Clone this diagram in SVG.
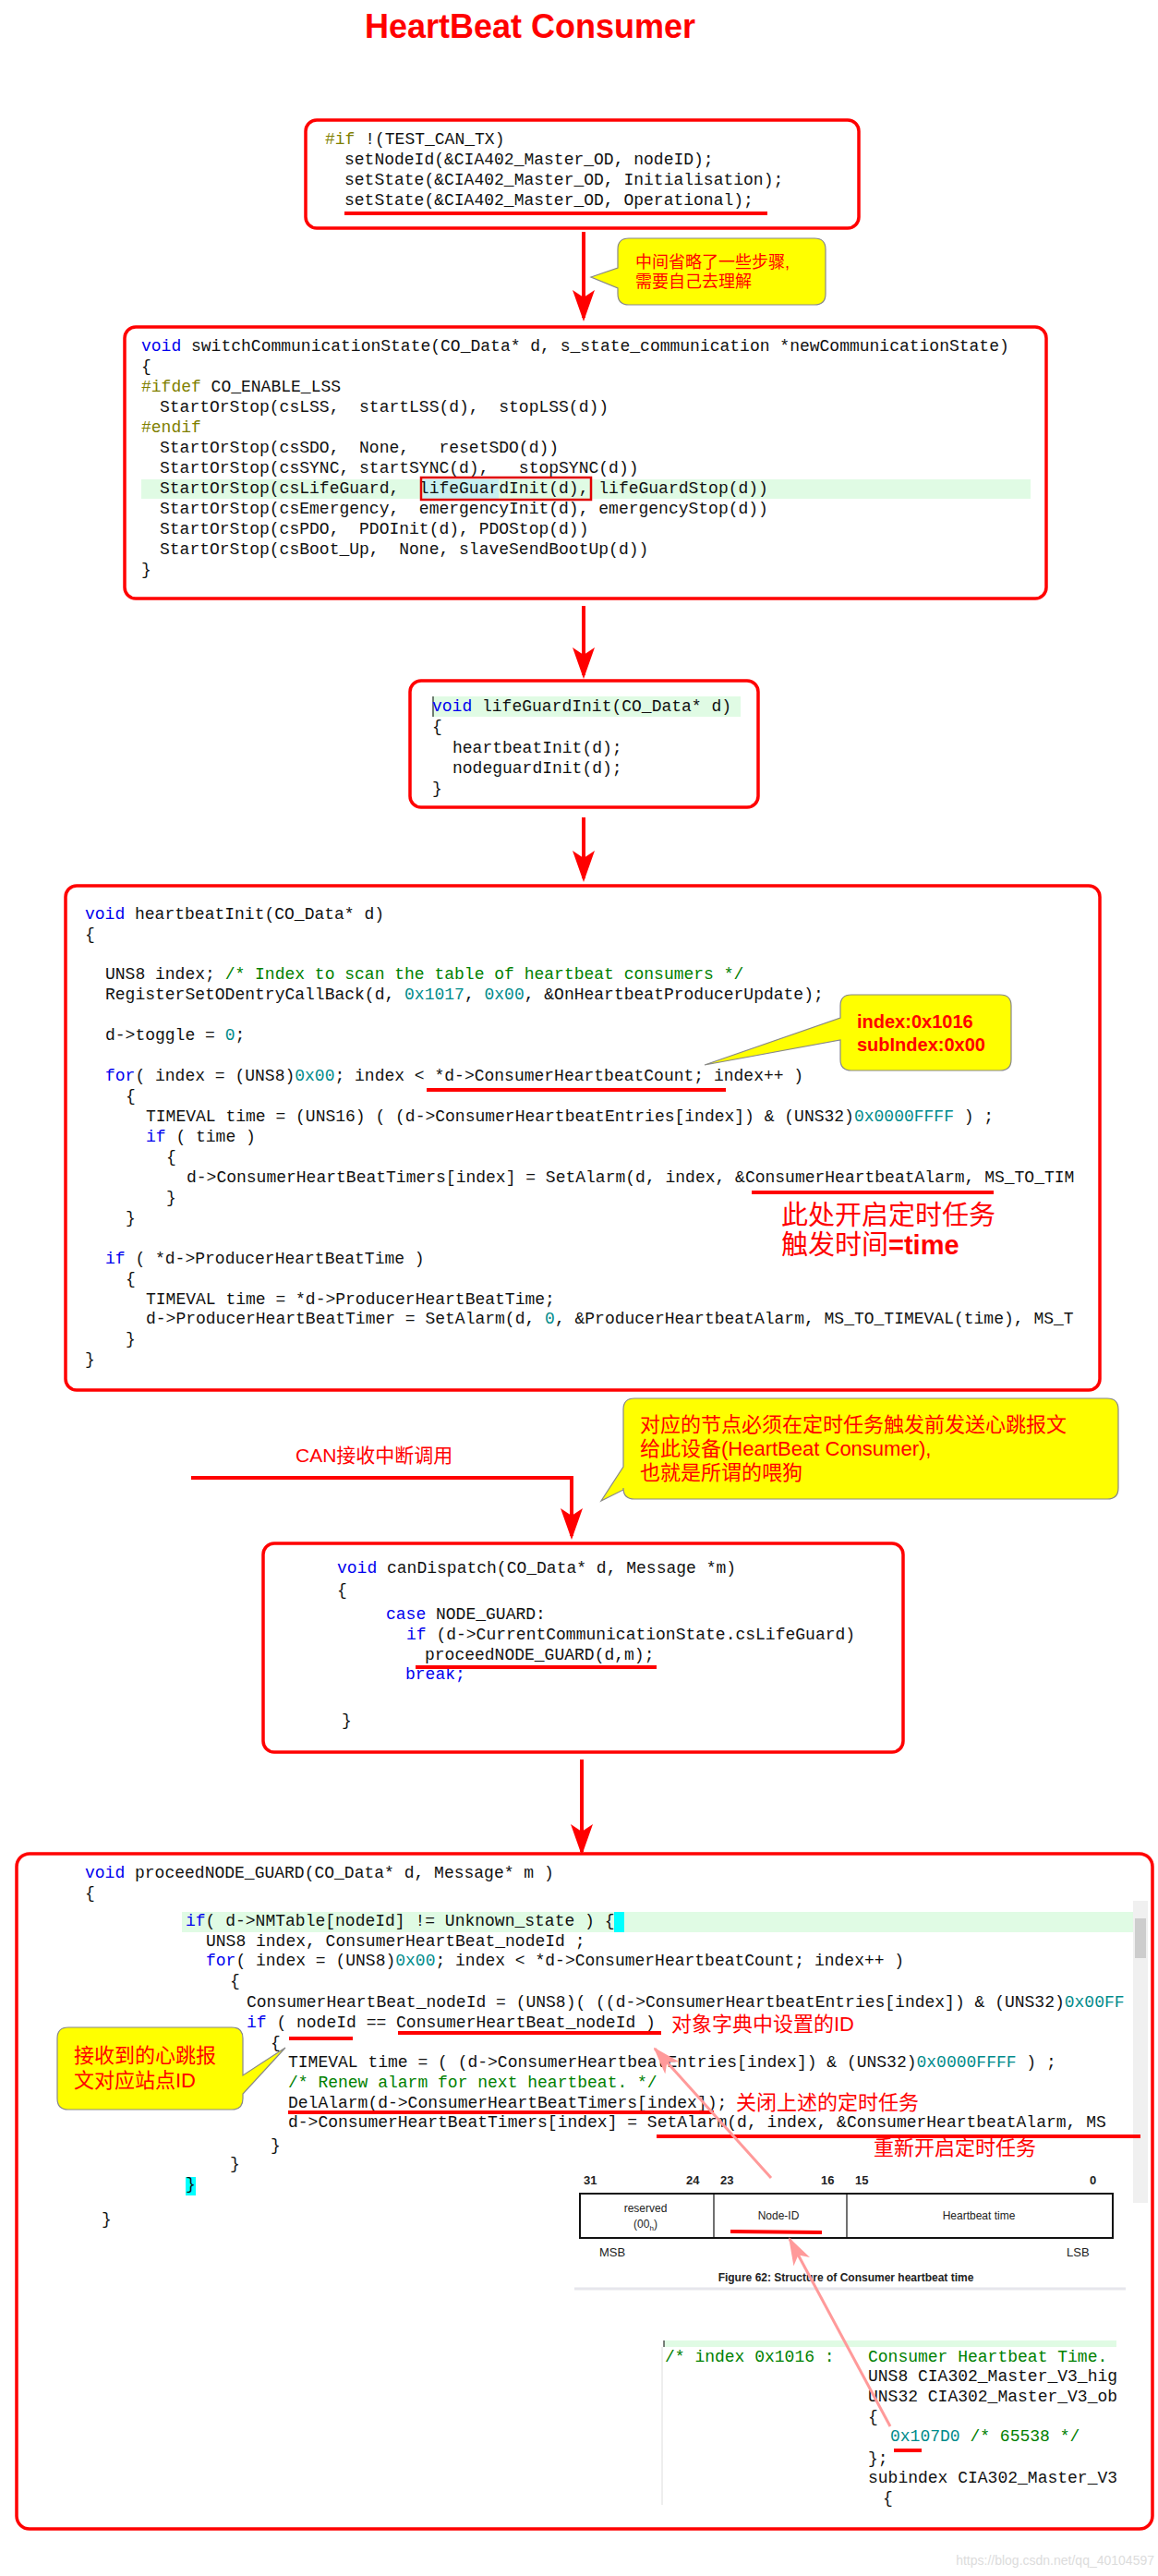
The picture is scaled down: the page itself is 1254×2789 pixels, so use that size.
<svg xmlns="http://www.w3.org/2000/svg" width="1254" height="2789" viewBox="0 0 1254 2789">
<style>
.box{fill:#fff;stroke:#ff0000;stroke-width:3.5}
.call{fill:#ffff00;stroke:#888;stroke-width:1.2}
.c{font-family:"Liberation Mono",monospace;font-size:18px;fill:#111;white-space:pre}
.k{fill:#0000ee}.p{fill:#808000}.n{fill:#008b8b}.m{fill:#008000}
.cn{font-family:"Liberation Sans","Noto Sans CJK SC",sans-serif;fill:#ff0000}
.ul{stroke:#ff0000;stroke-width:4;fill:none}
.ar{stroke:#ff0000;stroke-width:4;fill:none}
.fig{font-family:"Liberation Sans",sans-serif;fill:#222}
</style>
<defs>
<marker id="ah" markerUnits="userSpaceOnUse" markerWidth="34" markerHeight="24" refX="30" refY="12" orient="auto" viewBox="0 0 34 24">
<path d="M0,0 L8,12 L0,24 L34,12 Z" fill="#ff0000"/>
</marker>
<marker id="ph" markerUnits="userSpaceOnUse" markerWidth="30" markerHeight="20" refX="28" refY="10" orient="auto" viewBox="0 0 30 20">
<path d="M0,0 L8,10 L0,20 L30,10 Z" fill="#ff9a9a"/>
</marker>
<clipPath id="c4"><rect x="70" y="950" width="1115" height="560"/></clipPath>
<clipPath id="c6"><rect x="18" y="2000" width="1208" height="400"/></clipPath>
<clipPath id="c7"><rect x="700" y="2520" width="509" height="210"/></clipPath>
</defs>

<text id="title" x="574" y="41" text-anchor="middle" font-family="Liberation Sans,sans-serif" font-weight="bold" font-size="36" fill="#ff0000">HeartBeat Consumer</text>

<g id="connectors">
<line class="ar" x1="632" y1="251" x2="632" y2="344" marker-end="url(#ah)"/>
<line class="ar" x1="632" y1="656" x2="632" y2="731" marker-end="url(#ah)"/>
<line class="ar" x1="632" y1="885" x2="632" y2="951" marker-end="url(#ah)"/>
<polyline class="ar" points="207,1600 619,1600 619,1663" marker-end="url(#ah)"/>
<line class="ar" x1="630" y1="1905" x2="630" y2="2005" marker-end="url(#ah)"/>
</g>

<g id="n1">
<rect class="box" x="331" y="130" width="599" height="117" rx="12"/>
<text class="c" x="352" y="156"><tspan class="p">#if</tspan> !(TEST_CAN_TX)</text>
<text class="c" x="373" y="178">setNodeId(&amp;CIA402_Master_OD, nodeID);</text>
<text class="c" x="373" y="200">setState(&amp;CIA402_Master_OD, Initialisation);</text>
<text class="c" x="373" y="222">setState(&amp;CIA402_Master_OD, Operational);</text>
<line class="ul" x1="373" y1="231" x2="831" y2="231"/>
</g>

<g id="note1">
<path class="call" d="M681,258 H882 Q894,258 894,270 V318 Q894,330 882,330 H681 Q669,330 669,318 V312 L640,300 L669,290 V270 Q669,258 681,258 Z"/>
<text class="cn" x="688" y="290" font-size="18">中间省略了一些步骤,</text>
<text class="cn" x="688" y="311" font-size="18">需要自己去理解</text>
</g>

<g id="n2">
<rect class="box" x="135" y="354" width="998" height="294" rx="12"/>
<rect x="153" y="519" width="963" height="21" fill="#e0fbe4"/>
<rect x="458" y="519" width="82" height="21" fill="#c8f0f0"/>
<text class="c" x="153" y="380"><tspan class="k">void</tspan> switchCommunicationState(CO_Data* d, s_state_communication *newCommunicationState)</text>
<text class="c" x="153" y="402">{</text>
<text class="c" x="153" y="424"><tspan class="p">#ifdef</tspan> CO_ENABLE_LSS</text>
<text class="c" x="173" y="446">StartOrStop(csLSS,  startLSS(d),  stopLSS(d))</text>
<text class="c p" x="153" y="468">#endif</text>
<text class="c" x="173" y="490">StartOrStop(csSDO,  None,   resetSDO(d))</text>
<text class="c" x="173" y="512">StartOrStop(csSYNC, startSYNC(d),   stopSYNC(d))</text>
<text class="c" x="173" y="534">StartOrStop(csLifeGuard,  lifeGuardInit(d), lifeGuardStop(d))</text>
<text class="c" x="173" y="556">StartOrStop(csEmergency,  emergencyInit(d), emergencyStop(d))</text>
<text class="c" x="173" y="578">StartOrStop(csPDO,  PDOInit(d), PDOStop(d))</text>
<text class="c" x="173" y="600">StartOrStop(csBoot_Up,  None, slaveSendBootUp(d))</text>
<text class="c" x="153" y="622">}</text>
<rect x="456" y="517" width="184" height="24" fill="none" stroke="#e00000" stroke-width="2.5"/>
</g>

<g id="n3">
<rect class="box" x="444" y="737" width="377" height="137" rx="12"/>
<rect x="468" y="754" width="334" height="22" fill="#e0fbe4"/>
<line x1="469" y1="754" x2="469" y2="776" stroke="#000" stroke-width="1"/>
<text class="c" x="468" y="770"><tspan class="k">void</tspan> lifeGuardInit(CO_Data* d)</text>
<text class="c" x="468" y="792">{</text>
<text class="c" x="490" y="815">heartbeatInit(d);</text>
<text class="c" x="490" y="837">nodeguardInit(d);</text>
<text class="c" x="468" y="859">}</text>
</g>

<g id="n4">
<rect class="box" x="71" y="959" width="1120" height="546" rx="12"/>
<g clip-path="url(#c4)">
<text class="c" x="92" y="995"><tspan class="k">void</tspan> heartbeatInit(CO_Data* d)</text>
<text class="c" x="92" y="1017">{</text>
<text class="c" x="114" y="1060">UNS8 index; <tspan class="m">/* Index to scan the table of heartbeat consumers */</tspan></text>
<text class="c" x="114" y="1082">RegisterSetODentryCallBack(d, <tspan class="n">0x1017</tspan>, <tspan class="n">0x00</tspan>, &amp;OnHeartbeatProducerUpdate);</text>
<text class="c" x="114" y="1126">d-&gt;toggle = <tspan class="n">0</tspan>;</text>
<text class="c" x="114" y="1170"><tspan class="k">for</tspan>( index = (UNS8)<tspan class="n">0x00</tspan>; index &lt; *d-&gt;ConsumerHeartbeatCount; index++ )</text>
<text class="c" x="136" y="1192">{</text>
<text class="c" x="158" y="1214">TIMEVAL time = (UNS16) ( (d-&gt;ConsumerHeartbeatEntries[index]) &amp; (UNS32)<tspan class="n">0x0000FFFF</tspan> ) ;</text>
<text class="c" x="158" y="1236"><tspan class="k">if</tspan> ( time )</text>
<text class="c" x="180" y="1258">{</text>
<text class="c" x="202" y="1280">d-&gt;ConsumerHeartBeatTimers[index] = SetAlarm(d, index, &amp;ConsumerHeartbeatAlarm, MS_TO_TIM</text>
<text class="c" x="180" y="1302">}</text>
<text class="c" x="136" y="1324">}</text>
<text class="c" x="114" y="1368"><tspan class="k">if</tspan> ( *d-&gt;ProducerHeartBeatTime )</text>
<text class="c" x="136" y="1390">{</text>
<text class="c" x="158" y="1412">TIMEVAL time = *d-&gt;ProducerHeartBeatTime;</text>
<text class="c" x="158" y="1433">d-&gt;ProducerHeartBeatTimer = SetAlarm(d, <tspan class="n">0</tspan>, &amp;ProducerHeartbeatAlarm, MS_TO_TIMEVAL(time), MS_T</text>
<text class="c" x="136" y="1455">}</text>
<text class="c" x="92" y="1477">}</text>
</g>
<line class="ul" x1="462" y1="1180" x2="786" y2="1180"/>
<line class="ul" x1="814" y1="1291" x2="1076" y2="1291"/>
<text class="cn" x="846" y="1326" font-size="29">此处开启定时任务</text>
<text class="cn" x="846" y="1358" font-size="29">触发时间<tspan font-weight="bold">=time</tspan></text>
</g>

<g id="note2">
<path class="call" d="M922,1077 H1083 Q1095,1077 1095,1089 V1147 Q1095,1159 1083,1159 H922 Q910,1159 910,1147 V1126 L763,1153 L910,1102 V1089 Q910,1077 922,1077 Z"/>
<text class="cn" x="928" y="1113" font-size="20" font-weight="bold">index:0x1016</text>
<text class="cn" x="928" y="1138" font-size="20" font-weight="bold">subIndex:0x00</text>
</g>

<g id="note3">
<path class="call" d="M687,1514 H1199 Q1211,1514 1211,1526 V1611 Q1211,1623 1199,1623 H687 Q675,1623 675,1611 V1613 L651,1625 L675,1588 V1526 Q675,1514 687,1514 Z"/>
<text class="cn" x="693" y="1550" font-size="22">对应的节点必须在定时任务触发前发送心跳报文</text>
<text class="cn" x="693" y="1576" font-size="22">给此设备(HeartBeat Consumer),</text>
<text class="cn" x="693" y="1602" font-size="22">也就是所谓的喂狗</text>
</g>
<text id="canlabel" class="cn" x="320" y="1583" font-size="21">CAN接收中断调用</text>

<g id="n5">
<rect class="box" x="285" y="1671" width="693" height="226" rx="12"/>
<text class="c" x="365" y="1703"><tspan class="k">void</tspan> canDispatch(CO_Data* d, Message *m)</text>
<text class="c" x="365" y="1727">{</text>
<text class="c" x="418" y="1753"><tspan class="k">case</tspan> NODE_GUARD:</text>
<text class="c" x="440" y="1775"><tspan class="k">if</tspan> (d-&gt;CurrentCommunicationState.csLifeGuard)</text>
<text class="c" x="460" y="1797">proceedNODE_GUARD(d,m);</text>
<text class="c k" x="439" y="1818">break;</text>
<text class="c" x="370" y="1868">}</text>
<line class="ul" x1="450" y1="1805" x2="711" y2="1805"/>
</g>

<g id="n6">
<rect class="box" x="18" y="2007" width="1230" height="731" rx="14"/>
<rect x="1227" y="2058" width="16" height="327" fill="#f0f0f0"/>
<rect x="1229" y="2077" width="12" height="43" fill="#cdcdcd"/>
<rect x="197" y="2070" width="1030" height="22" fill="#e0fbe4"/>
<rect x="665" y="2070" width="11" height="22" fill="#00ffff"/>
<rect x="201" y="2357" width="11" height="20" fill="#00ffff"/>
<g clip-path="url(#c6)">
<text class="c" x="92" y="2033"><tspan class="k">void</tspan> proceedNODE_GUARD(CO_Data* d, Message* m )</text>
<text class="c" x="92" y="2055">{</text>
<text class="c" x="201" y="2085"><tspan class="k">if</tspan>( d-&gt;NMTable[nodeId] != Unknown_state ) {</text>
<text class="c" x="223" y="2107">UNS8 index, ConsumerHeartBeat_nodeId ;</text>
<text class="c" x="223" y="2128"><tspan class="k">for</tspan>( index = (UNS8)<tspan class="n">0x00</tspan>; index &lt; *d-&gt;ConsumerHeartbeatCount; index++ )</text>
<text class="c" x="249" y="2150">{</text>
<text class="c" x="267" y="2173">ConsumerHeartBeat_nodeId = (UNS8)( ((d-&gt;ConsumerHeartbeatEntries[index]) &amp; (UNS32)<tspan class="n">0x00FF</tspan></text>
<text class="c" x="267" y="2195"><tspan class="k">if</tspan> ( nodeId == ConsumerHeartBeat_nodeId )</text>
<text class="c" x="293" y="2217">{</text>
<text class="c" x="312" y="2238">TIMEVAL time = ( (d-&gt;ConsumerHeartbeatEntries[index]) &amp; (UNS32)<tspan class="n">0x0000FFFF</tspan> ) ;</text>
<text class="c m" x="312" y="2260">/* Renew alarm for next heartbeat. */</text>
<text class="c" x="312" y="2282">DelAlarm(d-&gt;ConsumerHeartBeatTimers[index]);</text>
<text class="c" x="312" y="2303">d-&gt;ConsumerHeartBeatTimers[index] = SetAlarm(d, index, &amp;ConsumerHeartbeatAlarm, MS</text>
<text class="c" x="293" y="2328">}</text>
<text class="c" x="249" y="2348">}</text>
<text class="c" x="201" y="2370">}</text>
</g>
<text class="c" x="110" y="2408">}</text>
<text class="cn" x="727" y="2199" font-size="22">对象字典中设置的ID</text>
<text class="cn" x="797" y="2284" font-size="22">关闭上述的定时任务</text>
<text class="cn" x="946" y="2333" font-size="22">重新开启定时任务</text>
<line class="ul" x1="313" y1="2207" x2="382" y2="2207"/>
<line class="ul" x1="431" y1="2201" x2="716" y2="2201"/>
<line class="ul" x1="312" y1="2287" x2="773" y2="2287"/>
<line class="ul" x1="711" y1="2313" x2="1235" y2="2313"/>

<g id="figure62">
<text class="fig" font-size="13" font-weight="bold" y="2365"><tspan x="632">31</tspan><tspan x="743">24</tspan><tspan x="780">23</tspan><tspan x="889">16</tspan><tspan x="926">15</tspan><tspan x="1180">0</tspan></text>
<rect x="628" y="2375" width="577" height="48" fill="none" stroke="#111" stroke-width="2"/>
<line x1="773" y1="2375" x2="773" y2="2423" stroke="#111" stroke-width="1.2"/>
<line x1="917" y1="2375" x2="917" y2="2423" stroke="#111" stroke-width="1.2"/>
<text class="fig" font-size="12" x="699" y="2395" text-anchor="middle">reserved</text>
<text class="fig" font-size="12" x="699" y="2412" text-anchor="middle">(00<tspan font-size="8" dy="3">h</tspan><tspan dy="-3">)</tspan></text>
<text class="fig" font-size="12" x="843" y="2403" text-anchor="middle">Node-ID</text>
<text class="fig" font-size="12" x="1060" y="2403" text-anchor="middle">Heartbeat time</text>
<text class="fig" font-size="13" x="649" y="2443">MSB</text>
<text class="fig" font-size="13" x="1155" y="2443">LSB</text>
<text class="fig" font-size="12" font-weight="bold" x="916" y="2470" text-anchor="middle">Figure 62: Structure of Consumer heartbeat time</text>
<line x1="622" y1="2478" x2="1219" y2="2478" stroke="#e6e6ec" stroke-width="3"/>
<line class="ul" x1="791" y1="2416" x2="890" y2="2417"/>
</g>

<g id="snippet">
<rect x="719" y="2534" width="490" height="7" fill="#e0fbe4"/>
<line x1="719" y1="2534" x2="719" y2="2541" stroke="#000" stroke-width="1"/>
<line x1="717" y1="2541" x2="717" y2="2712" stroke="#ddd" stroke-width="1"/>
<g clip-path="url(#c7)">
<text class="c m" x="720" y="2557">/* index 0x1016 :</text>
<text class="c m" x="940" y="2557">Consumer Heartbeat Time.</text>
<text class="c" x="940" y="2578">UNS8 CIA302_Master_V3_highestSubIndex</text>
<text class="c" x="940" y="2600">UNS32 CIA302_Master_V3_obj1016</text>
<text class="c" x="940" y="2622">{</text>
<text class="c" x="964" y="2643"><tspan class="n">0x107D0</tspan> <tspan class="m">/* 65538 */</tspan></text>
<text class="c" x="940" y="2667">};</text>
<text class="c" x="940" y="2688">subindex CIA302_Master_V3_Index1016</text>
<text class="c" x="956" y="2710">{</text>
</g>
<line class="ul" x1="968" y1="2653" x2="998" y2="2653"/>
</g>

<line x1="835" y1="2358" x2="709" y2="2218" stroke="#ff9a9a" stroke-width="3" marker-end="url(#ph)"/>
<line x1="964" y1="2627" x2="855" y2="2424" stroke="#ff9a9a" stroke-width="3" marker-end="url(#ph)"/>
</g>

<g id="note4">
<path class="call" d="M74,2195 H251 Q263,2195 263,2207 V2247 L309,2217 L263,2267 V2272 Q263,2284 251,2284 H74 Q62,2284 62,2272 V2207 Q62,2195 74,2195 Z"/>
<text class="cn" x="80" y="2233" font-size="22">接收到的心跳报</text>
<text class="cn" x="80" y="2260" font-size="22">文对应站点ID</text>
</g>

<text x="1250" y="2777" text-anchor="end" font-family="Liberation Sans,sans-serif" font-size="14" fill="#dcdcdc">https://blog.csdn.net/qq_40104597</text>
</svg>
